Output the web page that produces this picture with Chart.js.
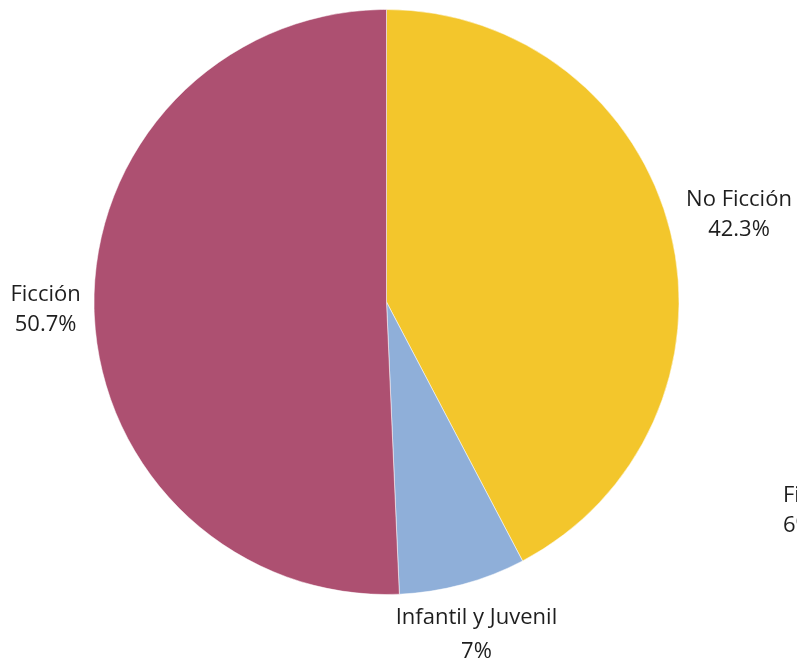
<!DOCTYPE html>
<html>
<head>
<meta charset="utf-8">
<title>Géneros</title>
<script src="https://cdn.jsdelivr.net/npm/chart.js@4.4.0/dist/chart.umd.min.js"></script>
<style>
  html, body { margin: 0; padding: 0; background: #fff; overflow: hidden; }
  #wrap { position: relative; width: 797px; height: 665px; overflow: hidden; }
  #cut {
    position: absolute; left: 783px; top: 478px;
    font: 22px "Open Sans", sans-serif; color: #1e1e1e; line-height: 30px;
    white-space: nowrap;
  }
</style>
</head>
<body>
<div id="wrap">
  <canvas id="myChart" width="797" height="665"></canvas>
  <div id="cut"></div>
</div>
<script>
// datos
var categories = ["No Ficción", "Infantil y Juvenil", "Ficción"];
var values = [42.3, 7, 50.7];
var valueLabels = ["42.3%", "7%", "50.7%"];
var colors = ["#F3C62C", "#8FAFD9", "#AD5071"];

// etiqueta recortada en el borde derecho
var cutLabel = ["Ficción", "6%"];

document.getElementById("cut").innerHTML = cutLabel.join("<br>");

var outsideLabels = {
  id: 'outsideLabels',
  afterDatasetsDraw: function(chart) {
    var ctx = chart.ctx;
    var meta = chart.getDatasetMeta(0);
    ctx.save();
    ctx.font = '22px "Open Sans", sans-serif';
    ctx.fillStyle = '#1e1e1e';
    ctx.textAlign = 'center';
    ctx.textBaseline = 'middle';
    meta.data.forEach(function(arc, i) {
      var p = arc.getProps(['x', 'y', 'startAngle', 'endAngle', 'outerRadius'], true);
      var mid = (p.startAngle + p.endAngle) / 2;
      var dx = Math.cos(mid), dy = Math.sin(mid);
      var down = Math.max(0, dy);
      var gap = 30 + 4 * down;
      var w = Math.max(ctx.measureText(categories[i]).width, ctx.measureText(valueLabels[i]).width);
      var hw = w / 2, hh = (gap + 22) / 2;
      var d = p.outerRadius + 13 - 9 * down + Math.abs(dx) * hw + Math.abs(dy) * hh;
      var cx = p.x + dx * d, cy = p.y + dy * d;
      ctx.fillText(categories[i], cx, cy - gap / 2);
      ctx.fillText(valueLabels[i], cx, cy + gap / 2);
    });
    ctx.restore();
  }
};

var ctx = document.getElementById("myChart").getContext('2d');
var myChart = new Chart(ctx, {
  type: 'pie',
  data: {
    labels: categories,
    datasets: [{
      data: values,
      backgroundColor: colors,
      borderColor: 'rgba(255,255,255,0.5)',
      borderWidth: 1
    }]
  },
  options: {
    responsive: false,
    animation: false,
    layout: { padding: { left: 93, right: 117, top: 9, bottom: 70 } },
    plugins: {
      legend: { display: false },
      tooltip: { enabled: false }
    }
  },
  plugins: [outsideLabels]
});
</script>
</body>
</html>
